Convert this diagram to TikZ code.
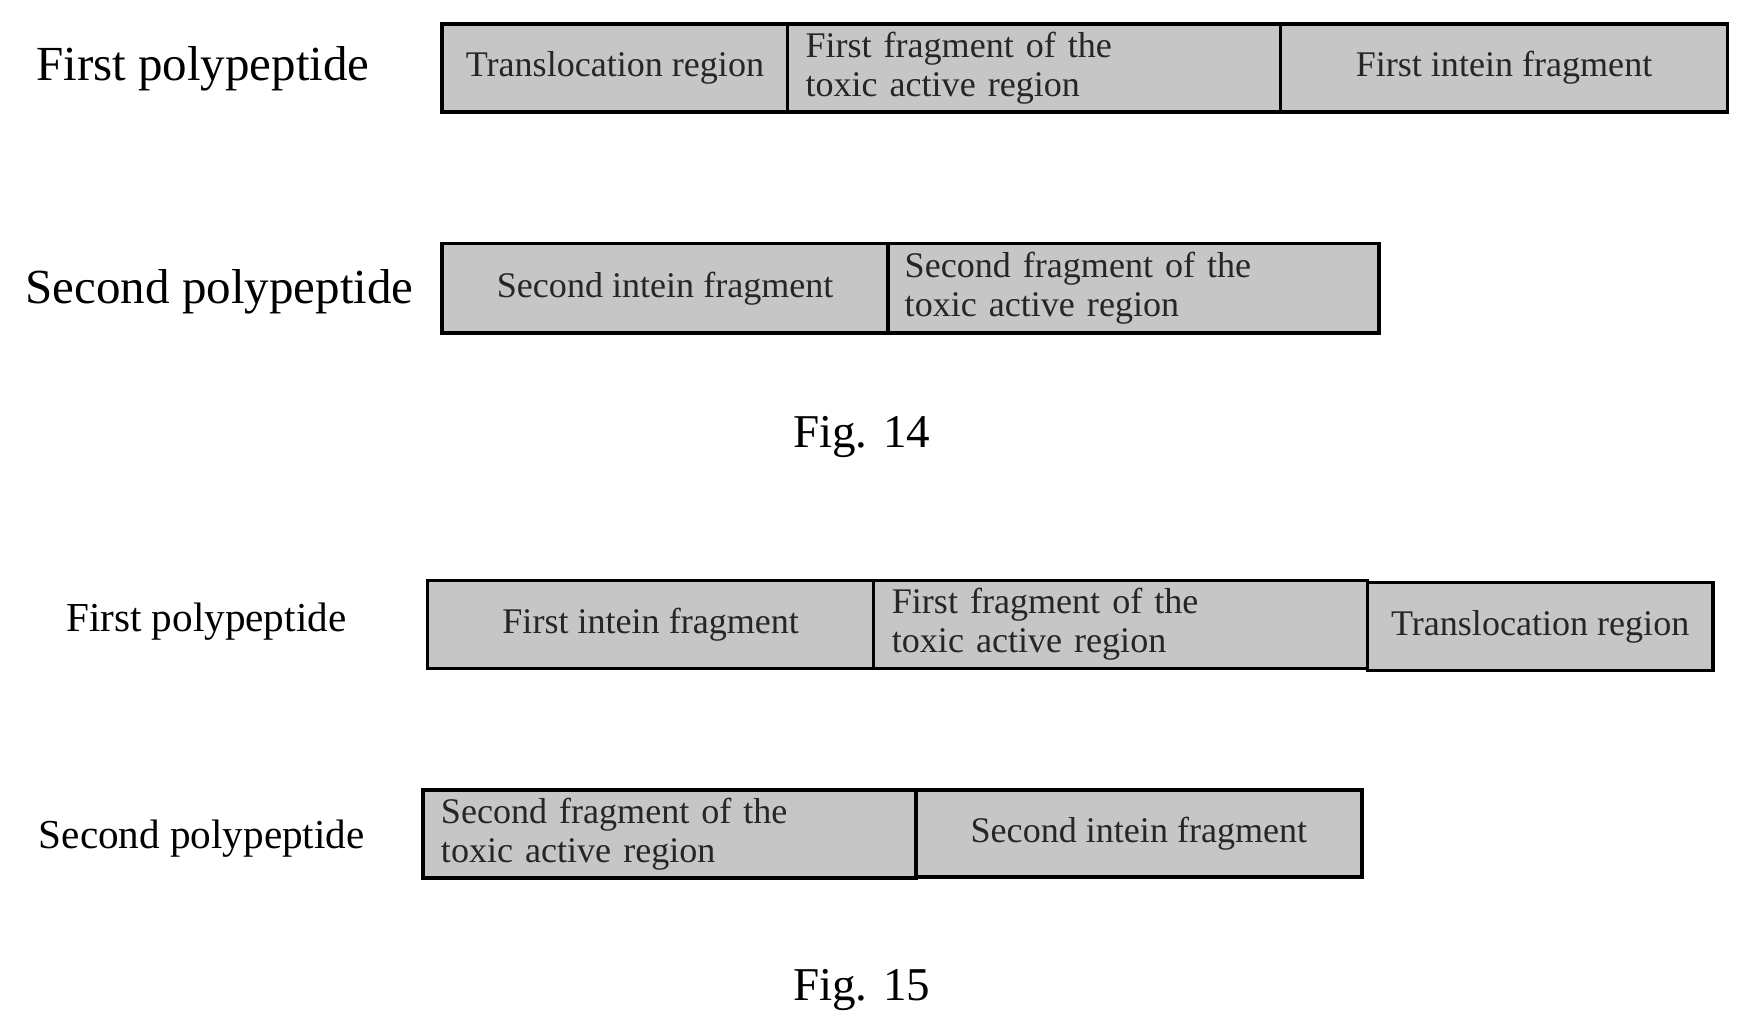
\documentclass[tikz,border=0pt]{standalone}
\usepackage{fontspec}
\setmainfont{Liberation Serif}
\usetikzlibrary{positioning}
\tikzset{
  seg/.style={draw, line width=0.9pt, fill=gray!45, inner sep=2pt, anchor=north west,
    font=\fontsize{9.2}{10}\selectfont, align=left, text=black!85},
  biglbl/.style={font=\fontsize{12.5}{14}\selectfont},
  smalllbl/.style={font=\fontsize{10.5}{12}\selectfont},
  figlbl/.style={font=\fontsize{12}{14}\selectfont}
}
\begin{document}
\begin{tikzpicture}[x=0.01cm, y=-0.01cm]
\useasboundingbox (0,0) rectangle (1560,926);

% Fig. 14
\node[biglbl] (p1a) at (182,62) {First polypeptide};
\node[seg, minimum width=3.1cm, minimum height=0.79cm] (tra) at (395,20) {Translocation region};
\node[seg, minimum width=4.42cm, minimum height=0.79cm, text width=4.1cm] (toxa) at (705,20) {First fragment of the\\toxic active region};
\node[seg, minimum width=4.01cm, minimum height=0.79cm] (inta) at (1147,20) {First intein fragment};

\node[biglbl] (p2a) at (197,262) {Second polypeptide};
\node[seg, minimum width=4.0cm, minimum height=0.8cm] (intb) at (395,217) {Second intein fragment};
\node[seg, minimum width=4.4cm, minimum height=0.8cm, text width=4.1cm] (toxb) at (795,217) {Second fragment of the\\toxic active region};

\node[figlbl] (f14) at (773,392) {Fig. 14};

% Fig. 15
\node[smalllbl] (p1b) at (185,558) {First polypeptide};
\node[seg, minimum width=4.0cm, minimum height=0.79cm] (intc) at (382,519) {First intein fragment};
\node[seg, minimum width=4.43cm, minimum height=0.79cm, text width=4.1cm] (toxc) at (782,519) {First fragment of the\\toxic active region};
\node[seg, minimum width=3.1cm, minimum height=0.79cm] (trc) at (1225,521) {Translocation region};

\node[smalllbl] (p2b) at (181,752) {Second polypeptide};
\node[seg, minimum width=4.42cm, minimum height=0.78cm, text width=4.1cm] (toxd) at (378,707) {Second fragment of the\\toxic active region};
\node[seg, minimum width=4.0cm, minimum height=0.78cm] (intd) at (820,707) {Second intein fragment};

\node[figlbl] (f15) at (773,888) {Fig. 15};
\end{tikzpicture}
\end{document}
